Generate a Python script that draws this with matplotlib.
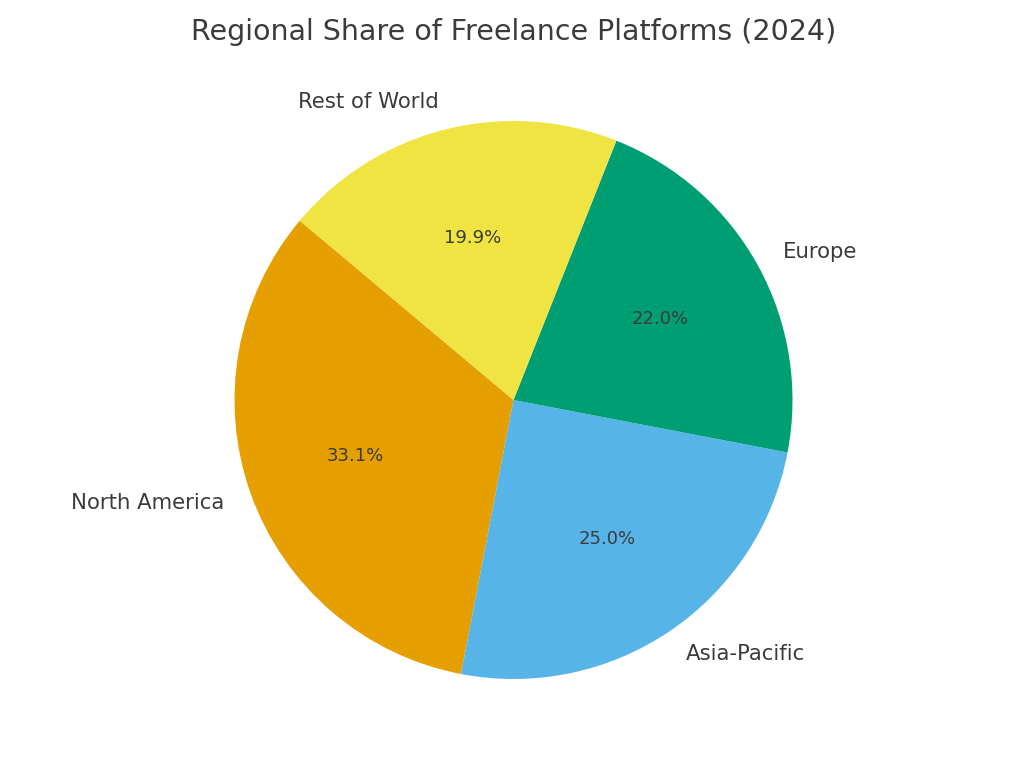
import matplotlib
matplotlib.use('Agg')
import matplotlib.pyplot as plt

# Values
regions = ['North America', 'Asia-Pacific', 'Europe', 'Rest of World']
shares = [33.1, 25.0, 22.0, 19.9]
colors = ['#E69F00', '#56B4E9', '#009E73', '#F0E442']
title = 'Regional Share of Freelance Platforms (2024)'
text_color = '#3b3b3b'

fig = plt.figure(figsize=(10.24, 7.68), dpi=100)
ax = fig.add_axes([164.75 / 1024, 19.25 / 768, 697.5 / 1024, 697.5 / 768])

wedges, labels, pcts = ax.pie(shares, labels=regions, colors=colors, autopct='%1.1f%%',
                              startangle=140, textprops={'color': text_color})
for t in labels:
    t.set_fontsize(15.35)
for t in pcts:
    t.set_fontsize(13)
ax.set_title(title, fontsize=20.5, color=text_color, pad=8)

fig.savefig('out.png', dpi=100)
